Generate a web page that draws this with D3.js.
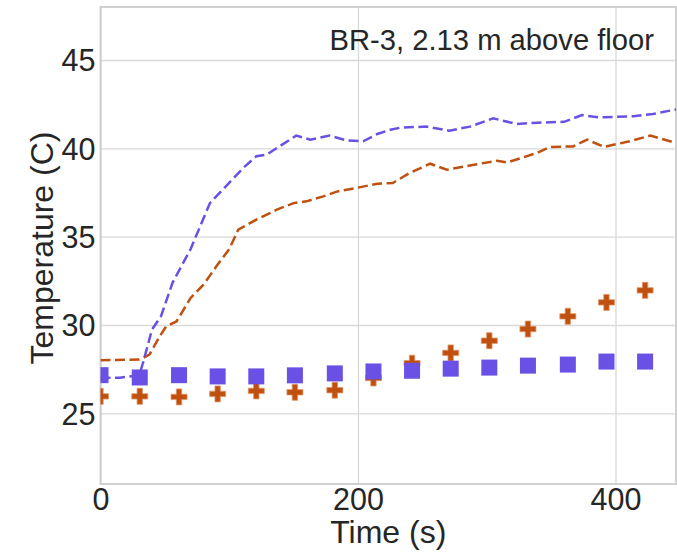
<!DOCTYPE html>
<html>
<head>
<meta charset="utf-8">
<script src="https://cdn.jsdelivr.net/npm/d3@7"></script>
<style>
  html, body { margin: 0; padding: 0; background: #ffffff; }
  svg { display: block; font-family: "Liberation Sans", Arial, sans-serif; }
</style>
</head>
<body>
<svg id="chart" width="677" height="552"></svg>
<script>
// ---- data ----
const markerTimes = [0, 30.5, 61, 91, 121, 151, 182, 212, 242, 272, 302, 332, 363, 393, 423];
const squareTemps = [27.16, 27.03, 27.16, 27.09, 27.09, 27.15, 27.26, 27.37, 27.41, 27.53, 27.59, 27.70, 27.76, 27.93, 27.93];
const plusTemps   = [25.96, 25.96, 25.93, 26.10, 26.27, 26.19, 26.31, 27.00, 27.84, 28.42, 29.11, 29.77, 30.49, 31.28, 31.96];

const blueLineTimes = [0, 15, 30, 33, 40, 47, 56, 70, 85, 95, 111, 121, 129, 139, 152, 163, 178, 191, 204, 215, 225, 233, 253, 271, 287, 305, 323, 340, 360, 374, 388, 414, 429, 447];
const blueLineTemps = [27.0, 27.02, 27.15, 27.85, 29.74, 30.5, 32.4, 34.3, 36.9, 37.66, 38.9, 39.55, 39.64, 40.11, 40.72, 40.49, 40.72, 40.45, 40.4, 40.81, 41.05, 41.17, 41.23, 41.0, 41.23, 41.7, 41.38, 41.45, 41.5, 41.88, 41.75, 41.82, 41.94, 42.2];

const orangeLineTimes = [0, 30, 33, 38, 46, 51, 59, 70, 80, 90, 100, 107, 121, 137, 150, 160, 173, 184, 199, 215, 227, 240, 256, 269, 290, 308, 316, 339, 349, 367, 378, 391, 411, 427, 447];
const orangeLineTemps = [28.0, 28.05, 28.13, 28.32, 29.36, 29.92, 30.2, 31.53, 32.28, 33.32, 34.3, 35.4, 35.96, 36.53, 36.9, 37.0, 37.28, 37.56, 37.76, 38.0, 38.04, 38.6, 39.13, 38.79, 39.07, 39.3, 39.2, 39.74, 40.08, 40.11, 40.49, 40.08, 40.4, 40.72, 40.3];

const xTicks = [0, 200, 400];
const yTicks = [25, 30, 35, 40, 45];
const xDomain = [0, 447];
const yDomain = [21, 48];
const titleText = "BR-3, 2.13 m above floor";
const xLabel = "Time (s)";
const yLabel = "Temperature (C)";

// ---- layout ----
const W = 677, H = 552;
const m = { left: 100.5, right: 1, top: 7, bottom: 68 };
const pw = W - m.left - m.right, ph = H - m.top - m.bottom;
const blue = "#6a50e4", orange = "#c0500f";
const gridColor = "#d9d9d9";

const svg = d3.select("#chart");
const x = d3.scaleLinear().domain(xDomain).range([m.left, m.left + pw]);
const y = d3.scaleLinear().domain(yDomain).range([m.top + ph, m.top]);

svg.append("defs").append("clipPath").attr("id", "clip")
  .append("rect").attr("x", m.left).attr("y", m.top).attr("width", pw).attr("height", ph);

// grid
const xAxis = d3.axisBottom(x).tickValues(xTicks).tickSize(-ph).tickPadding(6).tickFormat(d3.format("d"));
const yAxis = d3.axisLeft(y).tickValues(yTicks).tickSize(-pw).tickPadding(5).tickFormat(d3.format("d"));

const gx = svg.append("g").attr("transform", `translate(0,${m.top + ph})`).call(xAxis);
const gy = svg.append("g").attr("transform", `translate(${m.left},0)`).call(yAxis);
[gx, gy].forEach(g => {
  g.select(".domain").remove();
  g.selectAll(".tick line").attr("stroke", gridColor).attr("stroke-width", 1.3);
  g.selectAll(".tick text").attr("fill", "#262626").style("font-size", "30.5px")
    .style("font-family", "'Liberation Sans', Arial, sans-serif");
});
gx.selectAll(".tick text").attr("dy", "0.71em").attr("y", 4);
gy.selectAll(".tick text").attr("x", -5).attr("dy", "0.36em");

// frame
svg.append("rect").attr("x", m.left).attr("y", m.top).attr("width", pw).attr("height", ph)
  .attr("fill", "none").attr("stroke", "#cccccc").attr("stroke-width", 1.8);

const plot = svg.append("g").attr("clip-path", "url(#clip)");

// lines
const line = d3.line().x(d => x(d[0])).y(d => y(d[1]));
plot.append("path").datum(d3.zip(orangeLineTimes, orangeLineTemps))
  .attr("d", line).attr("fill", "none").attr("stroke", orange)
  .attr("stroke-width", 2.5).attr("stroke-dasharray", "10,4.5");
plot.append("path").datum(d3.zip(blueLineTimes, blueLineTemps))
  .attr("d", line).attr("fill", "none").attr("stroke", blue)
  .attr("stroke-width", 2.5).attr("stroke-dasharray", "10,4.5");

// plus markers
const a = 8, t = 2.7;
const plusPath = `M${-t},${-a}H${t}V${-t}H${a}V${t}H${t}V${a}H${-t}V${t}H${-a}V${-t}H${-t}Z`;
plot.selectAll(".plus").data(d3.zip(markerTimes, plusTemps)).join("path")
  .attr("class", "plus")
  .attr("d", plusPath)
  .attr("transform", d => `translate(${x(d[0])},${y(d[1])})`)
  .attr("fill", orange).attr("stroke", "rgba(222,150,105,0.8)").attr("stroke-width", 1);

// square markers
const s = 16;
plot.selectAll(".sq").data(d3.zip(markerTimes, squareTemps)).join("rect")
  .attr("class", "sq")
  .attr("x", d => x(d[0]) - s / 2).attr("y", d => y(d[1]) - s / 2)
  .attr("width", s).attr("height", s)
  .attr("fill", blue);

// texts
svg.append("text").attr("x", 654).attr("y", 50).attr("text-anchor", "end")
  .attr("fill", "#262626").style("font-size", "29.2px").text(titleText);
svg.append("text").attr("x", m.left + pw / 2).attr("y", 543).attr("text-anchor", "middle")
  .attr("fill", "#262626").style("font-size", "32px").text(xLabel);
svg.append("text").attr("transform", `translate(53,248) rotate(-90)`).attr("text-anchor", "middle")
  .attr("fill", "#262626").style("font-size", "32px").text(yLabel);
</script>
</body>
</html>
